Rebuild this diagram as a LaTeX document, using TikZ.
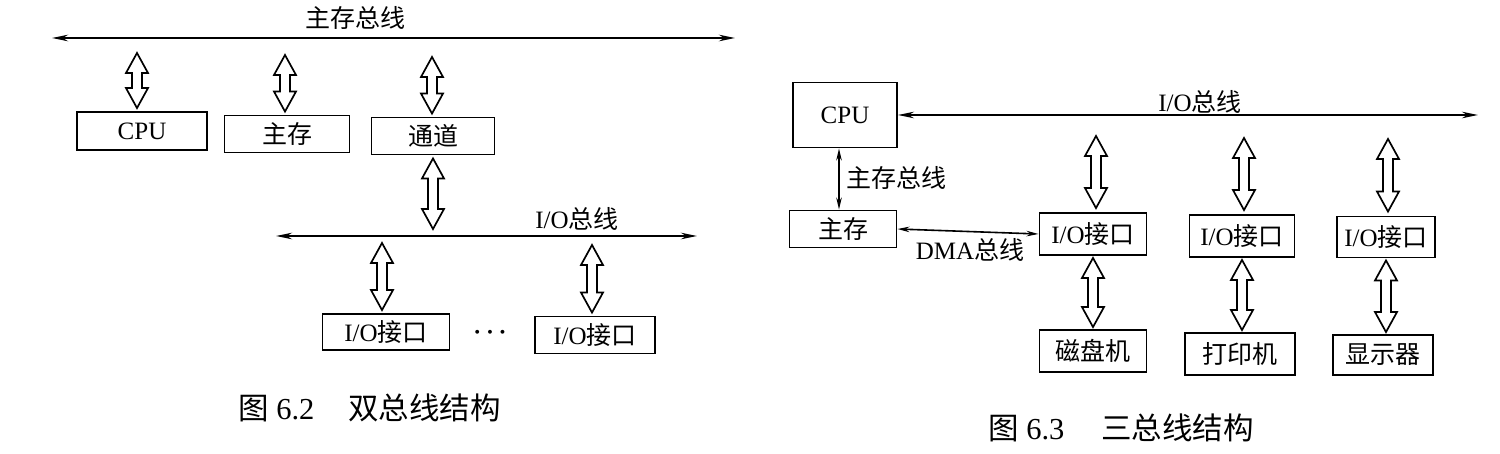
\documentclass[tikz,border=0pt]{standalone}
\usepackage{fontspec}
\setmainfont{Liberation Serif}
\newfontfamily\cjk{Noto Sans CJK SC}
\usetikzlibrary{arrows.meta,calc}
\newcommand\fatarrow[2]{%
  \draw[fat] let \p1=#1, \p2=#2 in
   (\x1,\y1) -- (\x1+11pt,\y1-20pt) -- (\x1+5pt,\y1-20pt) -- (\x1+5pt,\y2+20pt)
   -- (\x1+11pt,\y2+20pt) -- (\x1,\y2) -- (\x1-11pt,\y2+20pt) -- (\x1-5pt,\y2+20pt)
   -- (\x1-5pt,\y1-20pt) -- (\x1-11pt,\y1-20pt) -- cycle;}
\begin{document}
\begin{tikzpicture}[x=1pt,y=-1pt,
  box/.style={draw, line width=1.9pt, inner sep=0pt, font=\fontsize{25}{28}\selectfont},
  lbl/.style={inner sep=0pt, font=\fontsize{25}{28}\selectfont},
  captext/.style={inner sep=0pt, font=\fontsize{30.5}{34}\selectfont, anchor=west},
  bus/.style={line width=2.1pt, {Stealth[length=16pt,width=6.5pt]}-{Stealth[length=16pt,width=6.5pt]}},
  thinbus/.style={line width=1.6pt, {Stealth[length=12pt,width=5.5pt]}-{Stealth[length=12pt,width=5.5pt]}},
  fat/.style={line width=1.7pt, fill=white}]
\path[use as bounding box] (0,0) rectangle (1500,454);

% ---------- left: 双总线结构 ----------
\coordinate (mbL) at (52,38);
\coordinate (mbR) at (735,38);
\draw[bus] (mbL) -- (mbR);
\node[lbl] (mbl) at (355,18) {\cjk 主存总线};

\node[box, minimum width=130pt, minimum height=38pt] (cpu) at (142,131) {CPU};
\node[box, minimum width=125pt, minimum height=37pt] (zc) at (287,134) {\cjk 主存};
\node[box, minimum width=123pt, minimum height=37pt] (td) at (433,136) {\cjk 通道};

\coordinate (t1) at (137,53);
\coordinate (t2) at (285,55);
\coordinate (t3) at (432,57);
\fatarrow{(t1)}{($(cpu.north)+(0,-3)$)}
\fatarrow{(t2)}{($(zc.north)+(0,-3)$)}
\fatarrow{(t3)}{($(td.north)+(0,-3)$)}

\coordinate (ibL) at (276,236);
\coordinate (ibR) at (697,236);
\draw[bus] (ibL) -- (ibR);
\node[lbl] (ibl) at (577,219) {I/O{\cjk 总线}};
\coordinate (t4) at (431,229);
\fatarrow{($(td.south)+(0,3)$)}{(t4)}

\node[box, minimum width=127pt, minimum height=36pt] (io1) at (386,332) {I/O{\cjk 接口}};
\node[box, minimum width=120pt, minimum height=37pt] (io2) at (595,335) {I/O{\cjk 接口}};
\node[inner sep=0pt, font=\fontsize{34}{36}\selectfont\boldmath] (dots) at (490,333) {$\cdots$};
\coordinate (t5) at (382,243);
\coordinate (t6) at (592,245);
\fatarrow{(t5)}{($(io1.north)+(0,-3)$)}
\fatarrow{(t6)}{($(io2.north)+(0,-3)$)}

\node[captext] (cap1) at (238,408) {{\cjk 图} 6.2\hspace{1.1em}{\cjk 双总线结构}};

% ---------- right: 三总线结构 ----------
\node[box, minimum width=104pt, minimum height=65pt] (cpu2) at (845,115) {CPU};
\node[box, minimum width=107pt, minimum height=37pt] (zc2) at (843,229) {\cjk 主存};
\coordinate (rbR) at (1478,115);
\draw[bus] (cpu2.east) -- (rbR);
\node[lbl] (rbl) at (1200,102) {I/O{\cjk 总线}};

\draw[thinbus] ([xshift=-6pt]cpu2.south) -- ([xshift=-6pt]cpu2.south |- zc2.north);
\node[lbl, anchor=west] (zcl) at (846,178) {\cjk 主存总线};

\node[box, minimum width=107pt, minimum height=42pt] (iob1) at (1093,234) {I/O{\cjk 接口}};
\node[box, minimum width=105pt, minimum height=42pt] (iob2) at (1242,236) {I/O{\cjk 接口}};
\node[box, minimum width=98pt, minimum height=41pt] (iob3) at (1386,237) {I/O{\cjk 接口}};

\draw[thinbus] (zc2.east) -- (iob1.west);
\node[lbl] (dmal) at (970,250) {DMA{\cjk 总线}};

\coordinate (r1) at (1096,136);
\coordinate (r2) at (1244,138);
\coordinate (r3) at (1388,139);
\fatarrow{(r1)}{($(iob1.north)+(0,-4)$)}
\fatarrow{(r2)}{($(iob2.north)+(0,-4)$)}
\fatarrow{(r3)}{($(iob3.north)+(0,-4)$)}

\node[box, minimum width=107pt, minimum height=42pt] (d1) at (1093,351) {\cjk 磁盘机};
\node[box, minimum width=110pt, minimum height=42pt] (d2) at (1240,354) {\cjk 打印机};
\node[box, minimum width=100pt, minimum height=40pt] (d3) at (1383,355) {\cjk 显示器};

\fatarrow{($(iob1.south)+(0,2)$)}{($(d1.north)+(0,-2)$)}
\fatarrow{($(iob2.south)+(0,2)$)}{($(d2.north)+(0,-2)$)}
\fatarrow{($(iob3.south)+(0,2)$)}{($(d3.north)+(0,-2)$)}

\node[captext] (cap2) at (988,428) {{\cjk 图} 6.3\hspace{1.2em}{\cjk 三总线结构}};
\end{tikzpicture}
\end{document}
